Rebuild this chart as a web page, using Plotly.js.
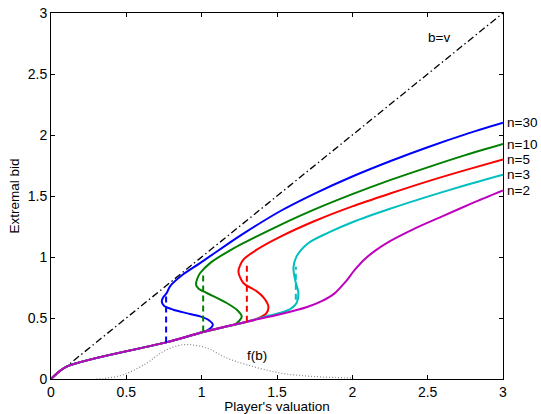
<!DOCTYPE html>
<html><head><meta charset="utf-8">
<script src="https://cdn.plot.ly/plotly-3.0.1.min.js"></script>
<style>html,body{margin:0;padding:0;background:#fff}#chart{width:541px;height:414px}</style>
</head><body><div id="chart"></div>
<script>
// Series (x = player's valuation, y = extremal bid)
const seriesNames = ['n=30', 'n=10', 'n=5', 'n=3', 'n=2'];
const n30_x = [0, 0.1, 0.764, 0.98, 1.04, 1.074, 1.05, 0.99, 0.9, 0.812, 0.75, 0.735, 0.745, 0.768, 0.79, 0.88, 0.989, 1.189, 1.30, 1.52, 1.75, 2.0, 2.25, 2.5, 2.75, 3.0];
const n30_y = [0, 0.1, 0.30, 0.375, 0.40, 0.445, 0.48, 0.513, 0.54, 0.568, 0.60, 0.636, 0.67, 0.705, 0.76, 0.86, 0.95, 1.12, 1.21, 1.375, 1.52, 1.66, 1.785, 1.90, 2.005, 2.10];
const n10_x = [0, 0.1, 0.764, 1.01, 1.15, 1.23, 1.266, 1.24, 1.166, 1.034, 0.98, 0.963, 0.97, 0.99, 1.056, 1.189, 1.366, 1.52, 1.75, 2.0, 2.25, 2.5, 2.75, 3.0];
const n10_y = [0, 0.1, 0.30, 0.385, 0.425, 0.455, 0.513, 0.56, 0.623, 0.705, 0.74, 0.773, 0.82, 0.869, 0.95, 1.055, 1.169, 1.262, 1.39, 1.515, 1.63, 1.735, 1.835, 1.926];
const n5_x = [0, 0.1, 0.764, 1.01, 1.30, 1.38, 1.43, 1.443, 1.41, 1.366, 1.277, 1.244, 1.277, 1.366, 1.52, 1.75, 2.0, 2.25, 2.5, 2.75, 3.0];
const n5_y = [0, 0.1, 0.30, 0.385, 0.47, 0.50, 0.54, 0.595, 0.67, 0.718, 0.787, 0.882, 0.978, 1.06, 1.165, 1.295, 1.415, 1.52, 1.62, 1.712, 1.80];
const n3_x = [0, 0.1, 0.764, 1.01, 1.30, 1.45, 1.53, 1.59, 1.63, 1.642, 1.62, 1.609, 1.63, 1.709, 1.841, 2.0, 2.25, 2.5, 2.75, 3.0];
const n3_y = [0, 0.1, 0.30, 0.385, 0.47, 0.52, 0.545, 0.575, 0.623, 0.705, 0.814, 0.91, 1.005, 1.115, 1.20, 1.285, 1.395, 1.495, 1.588, 1.675];
const n2_x = [0, 0.1, 0.764, 1.01, 1.30, 1.52, 1.70, 1.80, 1.88, 1.95, 2.02, 2.08, 2.15, 2.25, 2.4, 2.6, 2.8, 3.0];
const n2_y = [0, 0.1, 0.30, 0.385, 0.47, 0.53, 0.59, 0.64, 0.70, 0.79, 0.90, 0.98, 1.05, 1.13, 1.225, 1.335, 1.443, 1.545];
// vertical dashed jumps
const jumpX = [0.764, 1.01, 1.30, 1.625];
const jumpLow = [0.30, 0.39, 0.47, 0.65];
const jumpHigh = [0.70, 0.87, 0.95, 0.92];
// density f(b)
const fb_x = [0.3, 0.347, 0.48, 0.635, 0.746, 0.879, 1.034, 1.166, 1.30, 1.52, 1.742, 2.007];
const fb_y = [0, 0.003, 0.035, 0.13, 0.226, 0.281, 0.254, 0.172, 0.117, 0.049, 0.021, 0.008];
// b = v diagonal
const diag_x = [0, 3];
const diag_y = [0, 3];
const tickVals = [0, 0.5, 1, 1.5, 2, 2.5, 3];
const tickText = ['0', '0.5', '1', '1.5', '2', '2.5', '3'];

const colors = ['#0000ff', '#008000', '#ff0000', '#00bfbf', '#bf00bf'];
const xs = [n30_x, n10_x, n5_x, n3_x, n2_x];
const ys = [n30_y, n10_y, n5_y, n3_y, n2_y];

const traces = [];
traces.push({x: diag_x, y: diag_y, mode: 'lines', line: {color: '#000', width: 1.3, dash: '7px,3px,1.5px,3px'}, hoverinfo: 'skip'});
traces.push({x: fb_x, y: fb_y, mode: 'lines', line: {color: '#888', width: 1.2, dash: '1px,2px', shape: 'spline', smoothing: 1}, hoverinfo: 'skip'});
for (let i = 0; i < 5; i++) {
  traces.push({x: xs[i], y: ys[i], mode: 'lines', name: seriesNames[i],
    line: {color: colors[i], width: 2, shape: 'spline', smoothing: 0.8}});
}
for (let i = 0; i < jumpX.length; i++) {
  traces.push({x: [jumpX[i], jumpX[i]], y: [jumpLow[i], jumpHigh[i]], mode: 'lines',
    line: {color: colors[i], width: 2, dash: '6px,4px'}, hoverinfo: 'skip'});
}

const font = {family: 'Liberation Sans, Arial, Helvetica, sans-serif', size: 13.5, color: '#000'};
const tickFont = {family: 'Liberation Sans, Arial, Helvetica, sans-serif', size: 14, color: '#000'};
const annotations = seriesNames.map((t, i) => ({
  x: 3, y: ys[i][ys[i].length - 1], xref: 'x', yref: 'y', text: t,
  xanchor: 'left', yanchor: 'middle', xshift: 2, showarrow: false, font: font
}));
annotations.push({x: 2.578, y: 2.80, xref: 'x', yref: 'y', text: 'b=v', showarrow: false, font: font});
annotations.push({x: 1.366, y: 0.193, xref: 'x', yref: 'y', text: 'f(b)', showarrow: false, font: font});

const axisCommon = {
  range: [0, 3], tickvals: tickVals, ticktext: tickText, ticks: 'inside', ticklen: 4,
  tickcolor: '#000', tickwidth: 1, showline: true, linecolor: '#000', linewidth: 1,
  mirror: 'ticks', showgrid: false, zeroline: false, tickfont: tickFont, fixedrange: true
};

const layout = {
  width: 541, height: 414,
  margin: {l: 51, r: 38, t: 13, b: 35},
  paper_bgcolor: '#fff', plot_bgcolor: '#fff',
  showlegend: false, font: font,
  xaxis: Object.assign({}, axisCommon, {title: {text: "Player's valuation", font: font, standoff: 1}}),
  yaxis: Object.assign({}, axisCommon, {title: {text: 'Extremal bid', font: font, standoff: 5}}),
  annotations: annotations
};

Plotly.newPlot('chart', traces, layout, {displayModeBar: false, staticPlot: true});
</script></body></html>
